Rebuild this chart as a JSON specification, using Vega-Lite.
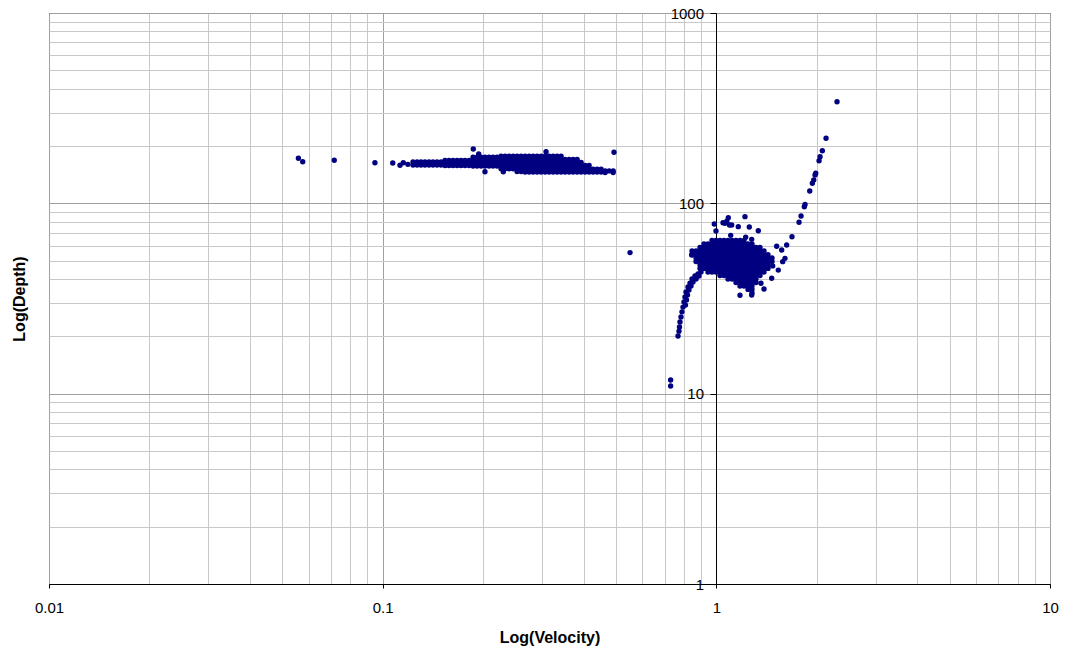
{
"$schema":"https://vega.github.io/schema/vega-lite/v6.json",
"width":1001,"height":571,
"autosize":{"type":"none"},
"padding":{"left":49,"top":13,"right":15,"bottom":65},
"background":"white",
"config":{"view":{"stroke":"#000000","strokeWidth":1},"font":"Liberation Sans"},
"data":{"values":[
{"velocity":0.0559,"depth":172.4},{"velocity":0.0576,"depth":165.4},{"velocity":0.0716,"depth":168.3},{"velocity":0.0948,"depth":163.5},{"velocity":0.1072,"depth":162.9},{"velocity":0.1127,"depth":158.5},{"velocity":0.1153,"depth":163.5},{"velocity":0.1190,"depth":160.3},
{"velocity":0.1869,"depth":193},{"velocity":0.1940,"depth":181.6},{"velocity":0.3088,"depth":186.7},{"velocity":0.4935,"depth":185.4},{"velocity":0.2026,"depth":146.6},{"velocity":0.2299,"depth":146.6},{"velocity":0.5513,"depth":55.1},
{"velocity":0.1233,"depth":164.9},{"velocity":0.1233,"depth":159},
{"velocity":0.1268,"depth":164.9},{"velocity":0.1268,"depth":159},
{"velocity":0.1303,"depth":164.9},{"velocity":0.1303,"depth":159},
{"velocity":0.1339,"depth":164.9},{"velocity":0.1339,"depth":159},
{"velocity":0.1377,"depth":164.9},{"velocity":0.1377,"depth":159},
{"velocity":0.1415,"depth":164.9},{"velocity":0.1415,"depth":159},
{"velocity":0.1455,"depth":164.9},{"velocity":0.1455,"depth":159},
{"velocity":0.1496,"depth":164.9},{"velocity":0.1496,"depth":159},
{"velocity":0.1538,"depth":168},{"velocity":0.1538,"depth":163},{"velocity":0.1538,"depth":158},
{"velocity":0.1581,"depth":168},{"velocity":0.1581,"depth":163},{"velocity":0.1581,"depth":158},
{"velocity":0.1625,"depth":168},{"velocity":0.1625,"depth":163},{"velocity":0.1625,"depth":158},
{"velocity":0.1671,"depth":168},{"velocity":0.1671,"depth":163},{"velocity":0.1671,"depth":158},
{"velocity":0.1717,"depth":168},{"velocity":0.1717,"depth":163},{"velocity":0.1717,"depth":158},
{"velocity":0.1765,"depth":168},{"velocity":0.1765,"depth":163},{"velocity":0.1765,"depth":158},
{"velocity":0.1815,"depth":168},{"velocity":0.1815,"depth":163},{"velocity":0.1815,"depth":158},
{"velocity":0.1866,"depth":175},{"velocity":0.1866,"depth":168},{"velocity":0.1866,"depth":162},{"velocity":0.1866,"depth":157},
{"velocity":0.1918,"depth":175},{"velocity":0.1918,"depth":168},{"velocity":0.1918,"depth":162},{"velocity":0.1918,"depth":157},
{"velocity":0.1972,"depth":175},{"velocity":0.1972,"depth":168},{"velocity":0.1972,"depth":162},{"velocity":0.1972,"depth":157},
{"velocity":0.2027,"depth":175},{"velocity":0.2027,"depth":168},{"velocity":0.2027,"depth":162},{"velocity":0.2027,"depth":157},
{"velocity":0.2084,"depth":175},{"velocity":0.2084,"depth":168},{"velocity":0.2084,"depth":162},{"velocity":0.2084,"depth":157},
{"velocity":0.2142,"depth":175},{"velocity":0.2142,"depth":168},{"velocity":0.2142,"depth":162},{"velocity":0.2142,"depth":157},
{"velocity":0.2202,"depth":175},{"velocity":0.2202,"depth":168},{"velocity":0.2202,"depth":162},{"velocity":0.2202,"depth":157},
{"velocity":0.2264,"depth":177},{"velocity":0.2264,"depth":170},{"velocity":0.2264,"depth":164},{"velocity":0.2264,"depth":158},{"velocity":0.2264,"depth":152},
{"velocity":0.2327,"depth":177},{"velocity":0.2327,"depth":170},{"velocity":0.2327,"depth":164},{"velocity":0.2327,"depth":158},{"velocity":0.2327,"depth":152},
{"velocity":0.2393,"depth":177},{"velocity":0.2393,"depth":170},{"velocity":0.2393,"depth":164},{"velocity":0.2393,"depth":158},{"velocity":0.2393,"depth":152},
{"velocity":0.2460,"depth":177},{"velocity":0.2460,"depth":170},{"velocity":0.2460,"depth":164},{"velocity":0.2460,"depth":158},{"velocity":0.2460,"depth":152},
{"velocity":0.2528,"depth":177},{"velocity":0.2528,"depth":170},{"velocity":0.2528,"depth":164},{"velocity":0.2528,"depth":158},{"velocity":0.2528,"depth":152},{"velocity":0.2528,"depth":147},
{"velocity":0.2599,"depth":177},{"velocity":0.2599,"depth":170},{"velocity":0.2599,"depth":164},{"velocity":0.2599,"depth":158},{"velocity":0.2599,"depth":152},{"velocity":0.2599,"depth":147},
{"velocity":0.2672,"depth":177},{"velocity":0.2672,"depth":170},{"velocity":0.2672,"depth":164},{"velocity":0.2672,"depth":158},{"velocity":0.2672,"depth":152},{"velocity":0.2672,"depth":146},
{"velocity":0.2747,"depth":177},{"velocity":0.2747,"depth":170},{"velocity":0.2747,"depth":164},{"velocity":0.2747,"depth":158},{"velocity":0.2747,"depth":152},{"velocity":0.2747,"depth":146},
{"velocity":0.2824,"depth":177},{"velocity":0.2824,"depth":170},{"velocity":0.2824,"depth":164},{"velocity":0.2824,"depth":158},{"velocity":0.2824,"depth":152},{"velocity":0.2824,"depth":146},
{"velocity":0.2903,"depth":177},{"velocity":0.2903,"depth":170},{"velocity":0.2903,"depth":164},{"velocity":0.2903,"depth":158},{"velocity":0.2903,"depth":152},{"velocity":0.2903,"depth":146},
{"velocity":0.2984,"depth":177},{"velocity":0.2984,"depth":170},{"velocity":0.2984,"depth":164},{"velocity":0.2984,"depth":158},{"velocity":0.2984,"depth":152},{"velocity":0.2984,"depth":146},
{"velocity":0.3068,"depth":177},{"velocity":0.3068,"depth":170},{"velocity":0.3068,"depth":164},{"velocity":0.3068,"depth":158},{"velocity":0.3068,"depth":152},{"velocity":0.3068,"depth":146},
{"velocity":0.3154,"depth":177},{"velocity":0.3154,"depth":170},{"velocity":0.3154,"depth":164},{"velocity":0.3154,"depth":158},{"velocity":0.3154,"depth":152},{"velocity":0.3154,"depth":146},
{"velocity":0.3242,"depth":177},{"velocity":0.3242,"depth":170},{"velocity":0.3242,"depth":164},{"velocity":0.3242,"depth":158},{"velocity":0.3242,"depth":152},{"velocity":0.3242,"depth":146},
{"velocity":0.3333,"depth":177},{"velocity":0.3333,"depth":170},{"velocity":0.3333,"depth":164},{"velocity":0.3333,"depth":158},{"velocity":0.3333,"depth":152},{"velocity":0.3333,"depth":146},
{"velocity":0.3426,"depth":177},{"velocity":0.3426,"depth":170},{"velocity":0.3426,"depth":164},{"velocity":0.3426,"depth":158},{"velocity":0.3426,"depth":152},{"velocity":0.3426,"depth":146},
{"velocity":0.3522,"depth":170},{"velocity":0.3522,"depth":164},{"velocity":0.3522,"depth":158},{"velocity":0.3522,"depth":152},{"velocity":0.3522,"depth":146},
{"velocity":0.3621,"depth":170},{"velocity":0.3621,"depth":164},{"velocity":0.3621,"depth":158},{"velocity":0.3621,"depth":152},{"velocity":0.3621,"depth":146},
{"velocity":0.3722,"depth":170},{"velocity":0.3722,"depth":164},{"velocity":0.3722,"depth":158},{"velocity":0.3722,"depth":152},{"velocity":0.3722,"depth":146},
{"velocity":0.3827,"depth":170},{"velocity":0.3827,"depth":164},{"velocity":0.3827,"depth":158},{"velocity":0.3827,"depth":152},{"velocity":0.3827,"depth":146},
{"velocity":0.3934,"depth":164},{"velocity":0.3934,"depth":158},{"velocity":0.3934,"depth":152},{"velocity":0.3934,"depth":146},
{"velocity":0.4044,"depth":158},{"velocity":0.4044,"depth":152},{"velocity":0.4044,"depth":146},
{"velocity":0.4157,"depth":158},{"velocity":0.4157,"depth":152},{"velocity":0.4157,"depth":146},
{"velocity":0.4274,"depth":151},{"velocity":0.4274,"depth":146},
{"velocity":0.4393,"depth":151},{"velocity":0.4393,"depth":146},
{"velocity":0.4516,"depth":151},{"velocity":0.4516,"depth":146},
{"velocity":0.4643,"depth":148},{"velocity":0.4643,"depth":145},
{"velocity":0.4773,"depth":148},
{"velocity":0.4907,"depth":148},{"velocity":0.4907,"depth":145},
{"velocity":0.8455,"depth":56.2},{"velocity":0.8455,"depth":53.8},
{"velocity":0.8693,"depth":56.2},{"velocity":0.8693,"depth":53.8},{"velocity":0.8693,"depth":51.6},{"velocity":0.8693,"depth":49.5},
{"velocity":0.8935,"depth":58.6},{"velocity":0.8935,"depth":56.2},{"velocity":0.8935,"depth":53.8},{"velocity":0.8935,"depth":51.6},{"velocity":0.8935,"depth":49.5},{"velocity":0.8935,"depth":47.4},{"velocity":0.8935,"depth":45.5},
{"velocity":0.9184,"depth":61.1},{"velocity":0.9184,"depth":58.6},{"velocity":0.9184,"depth":56.2},{"velocity":0.9184,"depth":53.8},{"velocity":0.9184,"depth":51.6},{"velocity":0.9184,"depth":49.5},{"velocity":0.9184,"depth":47.4},{"velocity":0.9184,"depth":45.5},
{"velocity":0.9441,"depth":61.1},{"velocity":0.9441,"depth":58.6},{"velocity":0.9441,"depth":56.2},{"velocity":0.9441,"depth":53.8},{"velocity":0.9441,"depth":51.6},{"velocity":0.9441,"depth":49.5},{"velocity":0.9441,"depth":47.4},{"velocity":0.9441,"depth":45.5},{"velocity":0.9441,"depth":43.6},
{"velocity":0.9705,"depth":63.8},{"velocity":0.9705,"depth":61.1},{"velocity":0.9705,"depth":58.6},{"velocity":0.9705,"depth":56.2},{"velocity":0.9705,"depth":53.8},{"velocity":0.9705,"depth":51.6},{"velocity":0.9705,"depth":49.5},{"velocity":0.9705,"depth":47.4},{"velocity":0.9705,"depth":45.5},{"velocity":0.9705,"depth":43.6},
{"velocity":0.9977,"depth":63.8},{"velocity":0.9977,"depth":61.1},{"velocity":0.9977,"depth":58.6},{"velocity":0.9977,"depth":56.2},{"velocity":0.9977,"depth":53.8},{"velocity":0.9977,"depth":51.6},{"velocity":0.9977,"depth":49.5},{"velocity":0.9977,"depth":47.4},{"velocity":0.9977,"depth":45.5},{"velocity":0.9977,"depth":43.6},
{"velocity":1.0256,"depth":63.8},{"velocity":1.0256,"depth":61.1},{"velocity":1.0256,"depth":58.6},{"velocity":1.0256,"depth":56.2},{"velocity":1.0256,"depth":53.8},{"velocity":1.0256,"depth":51.6},{"velocity":1.0256,"depth":49.5},{"velocity":1.0256,"depth":47.4},{"velocity":1.0256,"depth":45.5},{"velocity":1.0256,"depth":43.6},{"velocity":1.0256,"depth":41.8},
{"velocity":1.0543,"depth":63.8},{"velocity":1.0543,"depth":61.1},{"velocity":1.0543,"depth":58.6},{"velocity":1.0543,"depth":56.2},{"velocity":1.0543,"depth":53.8},{"velocity":1.0543,"depth":51.6},{"velocity":1.0543,"depth":49.5},{"velocity":1.0543,"depth":47.4},{"velocity":1.0543,"depth":45.5},{"velocity":1.0543,"depth":43.6},{"velocity":1.0543,"depth":41.8},
{"velocity":1.0838,"depth":63.8},{"velocity":1.0838,"depth":61.1},{"velocity":1.0838,"depth":58.6},{"velocity":1.0838,"depth":56.2},{"velocity":1.0838,"depth":53.8},{"velocity":1.0838,"depth":51.6},{"velocity":1.0838,"depth":49.5},{"velocity":1.0838,"depth":47.4},{"velocity":1.0838,"depth":45.5},{"velocity":1.0838,"depth":43.6},{"velocity":1.0838,"depth":41.8},{"velocity":1.0838,"depth":40.0},
{"velocity":1.1140,"depth":63.8},{"velocity":1.1140,"depth":61.1},{"velocity":1.1140,"depth":58.6},{"velocity":1.1140,"depth":56.2},{"velocity":1.1140,"depth":53.8},{"velocity":1.1140,"depth":51.6},{"velocity":1.1140,"depth":49.5},{"velocity":1.1140,"depth":47.4},{"velocity":1.1140,"depth":45.5},{"velocity":1.1140,"depth":43.6},{"velocity":1.1140,"depth":41.8},{"velocity":1.1140,"depth":40.0},
{"velocity":1.1452,"depth":63.8},{"velocity":1.1452,"depth":61.1},{"velocity":1.1452,"depth":58.6},{"velocity":1.1452,"depth":56.2},{"velocity":1.1452,"depth":53.8},{"velocity":1.1452,"depth":51.6},{"velocity":1.1452,"depth":49.5},{"velocity":1.1452,"depth":47.4},{"velocity":1.1452,"depth":45.5},{"velocity":1.1452,"depth":43.6},{"velocity":1.1452,"depth":41.8},{"velocity":1.1452,"depth":40.0},{"velocity":1.1452,"depth":38.4},
{"velocity":1.1774,"depth":63.8},{"velocity":1.1774,"depth":61.1},{"velocity":1.1774,"depth":58.6},{"velocity":1.1774,"depth":56.2},{"velocity":1.1774,"depth":53.8},{"velocity":1.1774,"depth":51.6},{"velocity":1.1774,"depth":49.5},{"velocity":1.1774,"depth":47.4},{"velocity":1.1774,"depth":45.5},{"velocity":1.1774,"depth":43.6},{"velocity":1.1774,"depth":41.8},{"velocity":1.1774,"depth":40.0},{"velocity":1.1774,"depth":38.4},{"velocity":1.1774,"depth":36.8},
{"velocity":1.2103,"depth":63.8},{"velocity":1.2103,"depth":61.1},{"velocity":1.2103,"depth":58.6},{"velocity":1.2103,"depth":56.2},{"velocity":1.2103,"depth":53.8},{"velocity":1.2103,"depth":51.6},{"velocity":1.2103,"depth":49.5},{"velocity":1.2103,"depth":47.4},{"velocity":1.2103,"depth":45.5},{"velocity":1.2103,"depth":43.6},{"velocity":1.2103,"depth":41.8},{"velocity":1.2103,"depth":40.0},{"velocity":1.2103,"depth":38.4},{"velocity":1.2103,"depth":36.8},
{"velocity":1.2442,"depth":61.1},{"velocity":1.2442,"depth":58.6},{"velocity":1.2442,"depth":56.2},{"velocity":1.2442,"depth":53.8},{"velocity":1.2442,"depth":51.6},{"velocity":1.2442,"depth":49.5},{"velocity":1.2442,"depth":47.4},{"velocity":1.2442,"depth":45.5},{"velocity":1.2442,"depth":43.6},{"velocity":1.2442,"depth":41.8},{"velocity":1.2442,"depth":40.0},{"velocity":1.2442,"depth":38.4},{"velocity":1.2442,"depth":36.8},{"velocity":1.2442,"depth":35.3},
{"velocity":1.2791,"depth":61.1},{"velocity":1.2791,"depth":58.6},{"velocity":1.2791,"depth":56.2},{"velocity":1.2791,"depth":53.8},{"velocity":1.2791,"depth":51.6},{"velocity":1.2791,"depth":49.5},{"velocity":1.2791,"depth":47.4},{"velocity":1.2791,"depth":45.5},{"velocity":1.2791,"depth":43.6},{"velocity":1.2791,"depth":41.8},{"velocity":1.2791,"depth":40.0},{"velocity":1.2791,"depth":38.4},{"velocity":1.2791,"depth":36.8},{"velocity":1.2791,"depth":35.3},{"velocity":1.2791,"depth":33.8},
{"velocity":1.3149,"depth":58.6},{"velocity":1.3149,"depth":56.2},{"velocity":1.3149,"depth":53.8},{"velocity":1.3149,"depth":51.6},{"velocity":1.3149,"depth":49.5},{"velocity":1.3149,"depth":47.4},{"velocity":1.3149,"depth":45.5},{"velocity":1.3149,"depth":43.6},{"velocity":1.3149,"depth":41.8},{"velocity":1.3149,"depth":40.0},{"velocity":1.3149,"depth":38.4},
{"velocity":1.3517,"depth":58.6},{"velocity":1.3517,"depth":56.2},{"velocity":1.3517,"depth":53.8},{"velocity":1.3517,"depth":51.6},{"velocity":1.3517,"depth":49.5},{"velocity":1.3517,"depth":47.4},{"velocity":1.3517,"depth":45.5},{"velocity":1.3517,"depth":43.6},{"velocity":1.3517,"depth":41.8},
{"velocity":1.3895,"depth":56.2},{"velocity":1.3895,"depth":53.8},{"velocity":1.3895,"depth":51.6},{"velocity":1.3895,"depth":49.5},{"velocity":1.3895,"depth":47.4},{"velocity":1.3895,"depth":45.5},{"velocity":1.3895,"depth":43.6},
{"velocity":1.4284,"depth":53.8},{"velocity":1.4284,"depth":51.6},{"velocity":1.4284,"depth":49.5},{"velocity":1.4284,"depth":47.4},{"velocity":1.4284,"depth":45.5},
{"velocity":1.4683,"depth":51.6},{"velocity":1.4683,"depth":49.5},
{"velocity":0.8995,"depth":43.6},{"velocity":0.8811,"depth":42.5},{"velocity":0.8630,"depth":41.5},{"velocity":0.8455,"depth":40.05},{"velocity":0.8337,"depth":38.1},{"velocity":0.8223,"depth":36.35},{"velocity":0.8111,"depth":34.2},{"velocity":0.8055,"depth":32.2},{"velocity":0.8000,"depth":30.3},{"velocity":0.7945,"depth":28.5},{"velocity":0.7890,"depth":26.9},{"velocity":0.7836,"depth":25.3},{"velocity":0.7782,"depth":23.8},{"velocity":0.7755,"depth":22.4},{"velocity":0.7729,"depth":21.3},{"velocity":0.7676,"depth":20.1},
{"velocity":0.8871,"depth":41.5},{"velocity":0.8693,"depth":40.05},{"velocity":0.8513,"depth":38.6},{"velocity":0.8396,"depth":36.8},{"velocity":0.8280,"depth":35.0},{"velocity":0.8195,"depth":33.0},{"velocity":0.8139,"depth":31.1},{"velocity":0.8083,"depth":29.2},
{"velocity":0.7296,"depth":11.8},{"velocity":0.7296,"depth":10.97},
{"velocity":0.9860,"depth":77.9},{"velocity":0.9977,"depth":71.5},{"velocity":1.0860,"depth":84.0},{"velocity":1.0616,"depth":78.5},{"velocity":1.0470,"depth":79.1},{"velocity":1.1117,"depth":76.9},{"velocity":1.1636,"depth":75.4},{"velocity":1.2186,"depth":85.1},{"velocity":1.2553,"depth":75.1},{"velocity":1.3359,"depth":71.8},{"velocity":1.1042,"depth":67.9},{"velocity":1.2245,"depth":66.3},{"velocity":1.2764,"depth":64.7},{"velocity":1.0750,"depth":80.5},{"velocity":1.0950,"depth":77.0},
{"velocity":1.4754,"depth":46.9},{"velocity":1.5335,"depth":44.6},{"velocity":1.4652,"depth":40.4},{"velocity":1.3610,"depth":38.0},{"velocity":1.3895,"depth":35.5},{"velocity":1.1774,"depth":32.9},{"velocity":1.2764,"depth":33.0},{"velocity":0.8438,"depth":53.5},
{"velocity":1.5166,"depth":59.5},{"velocity":1.5699,"depth":56.9},{"velocity":1.6061,"depth":51.4},{"velocity":1.5808,"depth":49.4},{"velocity":1.6250,"depth":60.4},{"velocity":1.6855,"depth":66.8},{"velocity":1.7696,"depth":79.5},{"velocity":1.7941,"depth":85.8},{"velocity":1.8355,"depth":96.0},{"velocity":1.8445,"depth":98.6},{"velocity":1.9053,"depth":116.1},{"velocity":1.9398,"depth":127.4},{"velocity":1.9587,"depth":132.7},{"velocity":1.9763,"depth":140.9},{"velocity":1.9858,"depth":143.8},{"velocity":2.0316,"depth":167.5},{"velocity":2.0457,"depth":175.8},{"velocity":2.0783,"depth":189.0},{"velocity":2.1321,"depth":219.6},{"velocity":2.3000,"depth":342.0}
]},
"mark":{"type":"point","filled":true,"shape":"circle","size":29,"color":"#000080","opacity":1},
"encoding":{
"x":{"field":"velocity","type":"quantitative",
"scale":{"type":"log","domain":[0.01,10],"nice":false},
"axis":{"title":"Log(Velocity)","values":[0.01,0.02,0.03,0.04,0.05,0.06,0.07,0.08,0.09,0.1,0.2,0.3,0.4,0.5,0.6,0.7,0.8,0.9,1,2,3,4,5,6,7,8,9,10],
"labelExpr":"datum.value==0.01?'0.01':datum.value==0.1?'0.1':datum.value==1?'1':datum.value==10?'10':''",
"labelFlush":false,"labelOverlap":false,"labelBound":false,"labelFont":"Liberation Sans","labelFontSize":15,"labelColor":"#000000","labelBaseline":"alphabetic","labelPadding":24.5,
"tickSize":4,"tickColor":"#000000","tickOpacity":{"condition":{"test":"datum.value==0.01||datum.value==0.1||datum.value==1||datum.value==10","value":1},"value":0},
"domainColor":"#000000","grid":true,"gridOpacity":1,"gridWidth":1,
"gridColor":{"condition":{"test":"datum.value==0.01||datum.value==0.1||datum.value==1||datum.value==10","value":"#a0a0a0"},"value":"#c8c8c8"},
"titleFont":"Liberation Sans","titleFontSize":16,"titleFontWeight":"bold","titleColor":"#000000","titleBaseline":"alphabetic","titleY":58}},
"y":{"field":"depth","type":"quantitative",
"scale":{"type":"log","domain":[1,1000],"nice":false},
"axis":{"title":"Log(Depth)","offset":-667,"values":[1,2,3,4,5,6,7,8,9,10,20,30,40,50,60,70,80,90,100,200,300,400,500,600,700,800,900,1000],
"labelExpr":"datum.value==1?'1':datum.value==10?'10':datum.value==100?'100':datum.value==1000?'1000':''",
"labelOverlap":false,"labelBound":false,"labelFont":"Liberation Sans","labelFontSize":15,"labelColor":"#000000","labelPadding":6.5,
"tickSize":6,"tickColor":"#000000","tickOpacity":{"condition":{"test":"datum.value==1||datum.value==10||datum.value==100||datum.value==1000","value":1},"value":0},
"domainColor":"#000000","grid":true,"gridOpacity":1,"gridWidth":1,
"gridColor":{"condition":{"test":"datum.value==1||datum.value==10||datum.value==100||datum.value==1000","value":"#a0a0a0"},"value":"#c8c8c8"},
"titleFont":"Liberation Sans","titleFontSize":16,"titleFontWeight":"bold","titleColor":"#000000","titleBaseline":"alphabetic","titleAngle":-90,"titleX":-692,"titleY":285.5}}
}
}
